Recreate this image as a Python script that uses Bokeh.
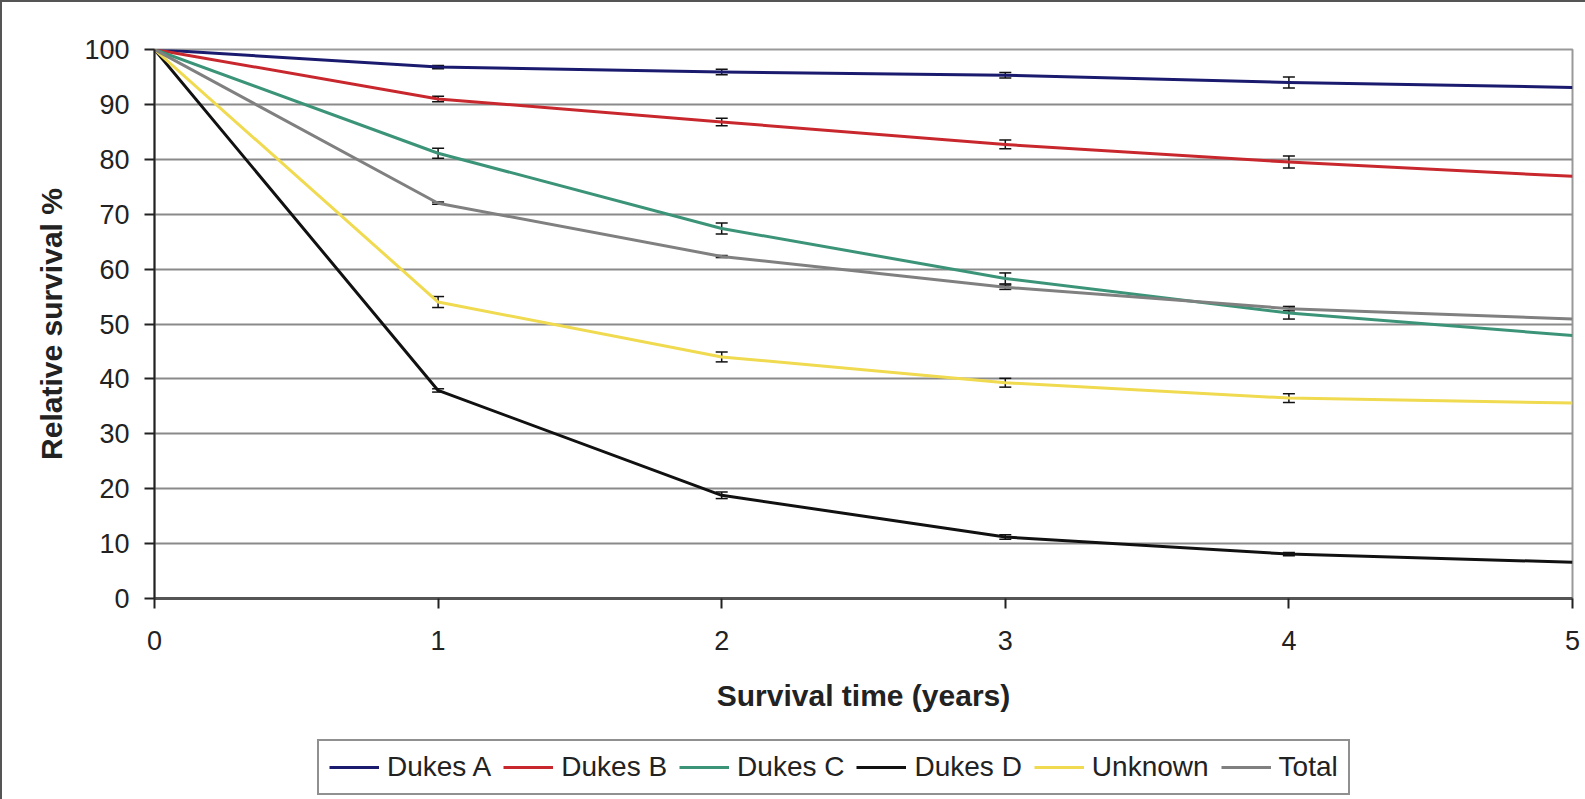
from bokeh.plotting import figure
from bokeh.layouts import column
from bokeh.models import Range1d, Legend, LegendItem, Whisker, TeeHead, ColumnDataSource, FixedTicker
from bokeh.embed import file_html
from bokeh.resources import INLINE

years = [0, 1, 2, 3, 4, 5]
series_names = ["Dukes A", "Dukes B", "Dukes C", "Dukes D", "Unknown", "Total"]
dukes_a = [100, 96.8, 95.9, 95.3, 94.0, 93.1]
dukes_b = [100, 91.0, 86.8, 82.7, 79.5, 76.9]
dukes_c = [100, 81.1, 67.4, 58.3, 52.0, 47.9]
dukes_d = [100, 37.9, 18.8, 11.2, 8.1, 6.6]
unknown = [100, 54.0, 44.0, 39.3, 36.5, 35.6]
total = [100, 72.0, 62.3, 56.7, 52.8, 50.9]

# error bar half-widths at years 1..4
err_years = [1, 2, 3, 4]
err_a = [0.3, 0.5, 0.5, 1.0]
err_b = [0.5, 0.7, 0.8, 1.1]
err_c = [0.9, 1.0, 1.0, 1.1]
err_d = [0.3, 0.6, 0.4, 0.3]
err_u = [1.0, 0.9, 0.8, 0.8]
err_t = [0.2, 0.2, 0.4, 0.4]

y_ticks = [0, 10, 20, 30, 40, 50, 60, 70, 80, 90, 100]
x_ticks = [0, 1, 2, 3, 4, 5]

colors = ["#1a1a6e", "#c8282d", "#3c9478", "#111111", "#f0da50", "#808080"]
values = [dukes_a, dukes_b, dukes_c, dukes_d, unknown, total]
errors = [err_a, err_b, err_c, err_d, err_u, err_t]

FONT = "Liberation Sans"
TOTAL_W = 152 + 1418 + 17

p = figure(output_backend="svg", toolbar_location=None,
           x_range=Range1d(0, 5), y_range=Range1d(0, 100),
           frame_width=1418, frame_height=549,
           min_border_left=152, min_border_top=47,
           min_border_right=17, min_border_bottom=122)
p.background_fill_color = "white"
p.border_fill_color = "white"
p.outline_line_color = "#999999"
p.outline_line_width = 2

p.xgrid.grid_line_color = None
p.ygrid.grid_line_color = "#8a8a8a"
p.ygrid.grid_line_width = 2
p.ygrid.ticker = FixedTicker(ticks=y_ticks)

p.yaxis.ticker = FixedTicker(ticks=y_ticks)
p.xaxis.ticker = FixedTicker(ticks=x_ticks)
for ax in (p.xaxis[0], p.yaxis[0]):
    ax.minor_tick_line_color = None
    ax.major_tick_in = 0
    ax.major_tick_out = 10
    ax.major_tick_line_width = 2
    ax.major_tick_line_color = "#222222"
    ax.major_label_text_font = FONT
    ax.major_label_text_font_size = "27px"
    ax.major_label_text_color = "#222222"
    ax.axis_label_text_font = FONT
    ax.axis_label_text_font_style = "bold"
    ax.axis_label_text_font_size = "30px"
    ax.axis_label_text_color = "#222222"

p.xaxis.axis_line_color = "#555555"
p.xaxis.axis_line_width = 3
p.yaxis.axis_line_color = "#222222"
p.yaxis.axis_line_width = 2
p.xaxis.axis_label = "Survival time (years)"
p.yaxis.axis_label = "Relative survival %"
p.xaxis.major_label_standoff = 22
p.yaxis.major_label_standoff = 15
p.xaxis.axis_label_standoff = 26
p.yaxis.axis_label_standoff = 13

for name, vals, col, errs in zip(series_names, values, colors, errors):
    p.line(years, vals, line_color=col, line_width=3, line_join="round")
    base_vals = [vals[years.index(x)] for x in err_years]
    src = ColumnDataSource(dict(base=err_years,
                                upper=[v + e for v, e in zip(base_vals, errs)],
                                lower=[v - e for v, e in zip(base_vals, errs)]))
    w = Whisker(base="base", upper="upper", lower="lower", source=src, dimension="height",
                line_color="#111111", line_width=1.5,
                upper_head=TeeHead(size=12, line_color="#111111", line_width=1.5),
                lower_head=TeeHead(size=12, line_color="#111111", line_width=1.5))
    p.add_layout(w)

# legend strip below the chart (frames are aligned by the column layout)
p2 = figure(output_backend="svg", toolbar_location=None, width=TOTAL_W, height=80,
            x_range=Range1d(0, 1), y_range=Range1d(0, 1), min_border=0)
p2.axis.visible = False
p2.grid.visible = False
p2.outline_line_color = None
p2.background_fill_color = "white"
p2.border_fill_color = "white"
nan = float("nan")
items = []
for name, col in zip(series_names, colors):
    r = p2.line(x=[nan], y=[nan], line_color=col, line_width=3)
    items.append(LegendItem(label=name, renderers=[r]))
legend = Legend(items=items, location=(163, 5), orientation="horizontal",
                label_text_font=FONT, label_text_font_size="28px", label_text_color="#222222",
                glyph_width=50, glyph_height=20, label_standoff=8, spacing=12,
                padding=10, margin=0, border_line_color="#222222", border_line_width=2,
                background_fill_color="white", background_fill_alpha=1.0)
p2.add_layout(legend, "center")

layout = column(p, p2, spacing=0)
layout.styles = {"border": "2px solid #555555", "background-color": "white"}

open("out.html", "w").write(file_html(layout, INLINE))
